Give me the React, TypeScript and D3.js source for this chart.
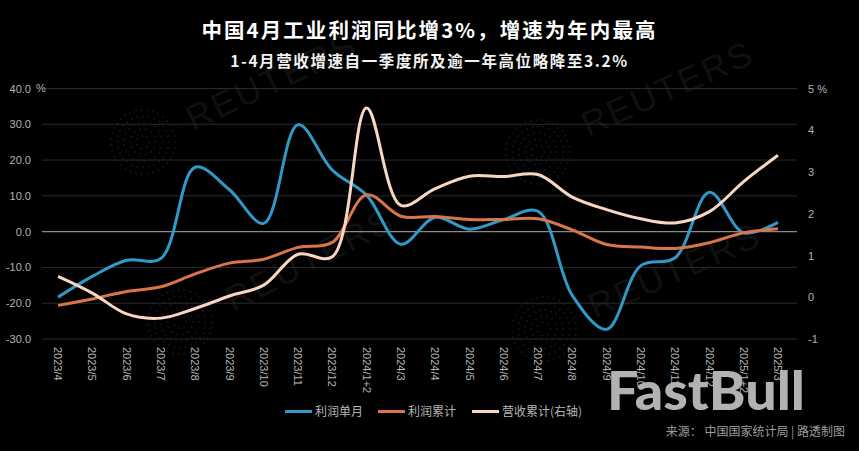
import * as d3 from 'd3';
import { useEffect, useRef } from 'react';

const months = [
  '2023/4', '2023/5', '2023/6', '2023/7', '2023/8', '2023/9', '2023/10', '2023/11', '2023/12',
  '2024/1+2', '2024/3', '2024/4', '2024/5', '2024/6', '2024/7', '2024/8', '2024/9', '2024/10',
  '2024/11', '2024/12', '2025/1+2', '2025/3',
];
const profitMonthly = [
  -18.3, -12.5, -8, -7.5, 18, 11.7, 2.3, 29.9, 17.2, 10.2, -3.5, 4, 0.7, 3.4, 5.7, -17.8, -27.3,
  -9.5, -7.3, 11, -0.3, 2.6,
];
const profitCumulative = [
  -20.6, -18.8, -16.7, -15.4, -11.8, -8.8, -7.7, -4.4, -3, 10.3, 4.3, 4.2, 3.4, 3.4, 3.6, 0.5,
  -3.6, -4.3, -4.7, -3.1, -0.3, 0.8,
];
const revenueCumulative = [
  0.5, 0.1, -0.4, -0.5, -0.27, 0.03, 0.29, 1.03, 0.97, 4.53, 2.2, 2.6, 2.9, 2.89, 2.94, 2.4, 2.1,
  1.88, 1.78, 2.05, 2.77, 3.4,
];
const leftTicks = [-30, -20, -10, 0, 10, 20, 30, 40];
const rightTicks = [-1, 0, 1, 2, 3, 4, 5];

const width = 859;
const height = 451;
const plotLeft = 42;
const plotRight = 797;
const plotTop = 88.5;
const plotBottom = 339;

const BLUE = '#2f9ac6';
const ORANGE = '#d8754a';
const CREAM = '#f7d7c2';
const LABEL = '#b4b4b4';
const CJK = '"Noto Sans CJK SC", sans-serif';
const LATIN = '"Liberation Sans", Arial, sans-serif';

const x = d3.scaleBand<string>().domain(months).range([40.9, 795.1]);
const xPos = (i: number) => (x(months[i]) as number) + x.bandwidth() / 2;
const yLeft = d3.scaleLinear([-30, 40], [plotBottom, plotTop]);
const yRight = d3.scaleLinear([-1, 5], [plotBottom, plotTop]);

const lineLeft = d3
  .line<number>()
  .x((d, i) => xPos(i))
  .y((d) => yLeft(d))
  .curve(d3.curveCatmullRom.alpha(0.5));
const lineRight = d3
  .line<number>()
  .x((d, i) => xPos(i))
  .y((d) => yRight(d))
  .curve(d3.curveCatmullRom.alpha(0.5));

const reuters = [
  { x: 193, y: 131, angle: -25 },
  { x: 588, y: 137, angle: -24 },
  { x: 233, y: 312, angle: -27 },
  { x: 595, y: 319, angle: -24 },
];
const dotCircles = [
  { x: 143, y: 142 },
  { x: 538, y: 152 },
  { x: 180, y: 322 },
  { x: 544, y: 329 },
];
const legend = [
  { label: '利润单月', color: BLUE, x: 285 },
  { label: '利润累计', color: ORANGE, x: 378 },
  { label: '营收累计(右轴)', color: CREAM, x: 472 },
];

const DotCircle = ({ cx, cy }: { cx: number; cy: number }) => (
  <g fill="#161616">
    {d3.range(1, 6).flatMap((ring) =>
      d3.range(ring * 7).map((k) => {
        const a = (k / (ring * 7)) * Math.PI * 2;
        return <circle key={`${ring}-${k}`} cx={cx + Math.cos(a) * ring * 6.4} cy={cy + Math.sin(a) * ring * 6.4} r={1} />;
      }),
    )}
  </g>
);

export default function App() {
  const gx = useRef<SVGGElement | null>(null);
  const gl = useRef<SVGGElement | null>(null);
  const gr = useRef<SVGGElement | null>(null);

  useEffect(() => {
    const bottom = d3.select(gx.current as SVGGElement);
    bottom.call(d3.axisBottom(x).tickSize(0).tickPadding(0));
    bottom.select('.domain').remove();
    bottom
      .selectAll('text')
      .attr('transform', 'rotate(90)')
      .attr('x', 8)
      .attr('y', 0)
      .attr('dy', '0.35em')
      .attr('text-anchor', 'start');

    const left = d3.select(gl.current as SVGGElement);
    left.call(
      d3
        .axisLeft(yLeft)
        .tickValues(leftTicks)
        .tickSize(0)
        .tickPadding(11)
        .tickFormat((d) => (d as number).toFixed(1)),
    );
    left.select('.domain').remove();

    const right = d3.select(gr.current as SVGGElement);
    right.call(
      d3
        .axisRight(yRight)
        .tickValues(rightTicks)
        .tickSize(0)
        .tickPadding(11)
        .tickFormat((d) => (d === 5 ? '5 %' : String(d))),
    );
    right.select('.domain').remove();

    d3.selectAll([gx.current, gl.current, gr.current] as SVGGElement[])
      .attr('font-family', LATIN)
      .attr('font-size', 11)
      .selectAll('text')
      .attr('fill', LABEL);
  }, []);

  return (
    <svg
      width={width}
      height={height}
      style={{ position: 'absolute', left: 0, top: 0, background: '#000' }}
    >
      {reuters.map((r) => (
        <text
          key={r.x}
          transform={`translate(${r.x},${r.y}) rotate(${r.angle})`}
          fontFamily={LATIN}
          fontSize={35}
          letterSpacing={2.5}
          fill="#101010"
        >
          REUTERS
        </text>
      ))}
      {dotCircles.map((c) => (
        <DotCircle key={c.x} cx={c.x} cy={c.y} />
      ))}

      <text x={429.5} y={38} textAnchor="middle" fontFamily={CJK} fontWeight={700} fontSize={20.5} letterSpacing={2.05} fill="#fff">
        中国4月工业利润同比增3%，增速为年内最高
      </text>
      <text x={429.5} y={67} textAnchor="middle" fontFamily={CJK} fontWeight={700} fontSize={15.5} letterSpacing={1.6} fill="#f2f2f2">
        1-4月营收增速自一季度所及逾一年高位略降至3.2%
      </text>

      {leftTicks.map((t) => (
        <line
          key={t}
          x1={plotLeft}
          x2={plotRight}
          y1={yLeft(t)}
          y2={yLeft(t)}
          stroke={t === 0 ? '#8a8a8a' : '#2b2b2b'}
          strokeWidth={t === 0 ? 1.2 : 1}
        />
      ))}

      <g ref={gl} transform={`translate(${plotLeft},0)`} />
      <g ref={gr} transform={`translate(${plotRight},0)`} />
      <g ref={gx} transform={`translate(0,${plotBottom})`} />
      <text x={36} y={yLeft(40)} dy="0.35em" fontFamily={LATIN} fontSize={11} fill={LABEL}>
        %
      </text>

      <path d={lineLeft(profitMonthly) as string} fill="none" stroke={BLUE} strokeWidth={3} />
      <path d={lineLeft(profitCumulative) as string} fill="none" stroke={ORANGE} strokeWidth={3} />
      <path d={lineRight(revenueCumulative) as string} fill="none" stroke={CREAM} strokeWidth={3} />

      {legend.map((l) => (
        <g key={l.label}>
          <line x1={l.x} x2={l.x + 27} y1={411.5} y2={411.5} stroke={l.color} strokeWidth={3} />
          <text x={l.x + 30} y={416} fontFamily={CJK} fontSize={12} fill={LABEL}>
            {l.label}
          </text>
        </g>
      ))}

      <text x={607} y={410} fontFamily="Lato, Inter, sans-serif" fontWeight={900} fontSize={53} textLength={198} lengthAdjust="spacingAndGlyphs" fill="#b2b2b2">
        FastBull
      </text>
      <text x={845} y={436} textAnchor="end" fontFamily={CJK} fontSize={12} fill="#9c9c9c">
        来源： 中国国家统计局 | 路透制图
      </text>
    </svg>
  );
}
